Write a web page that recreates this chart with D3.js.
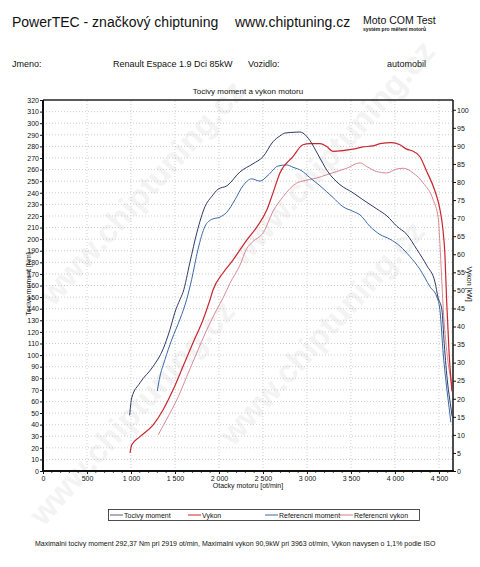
<!DOCTYPE html>
<html>
<head>
<meta charset="utf-8">
<script src="https://cdn.jsdelivr.net/npm/d3@7"></script>
<style>
  body { margin: 0; background: #fff; }
  svg text { font-family: "Liberation Sans", Arial, sans-serif; fill: #111; }
</style>
</head>
<body>
<svg width="480" height="567"></svg>
<script>
// tuned engine - torque [Nm]
var torqueRpm = [985, 1008, 1102, 1250, 1364, 1443, 1500, 1557, 1591, 1670, 1750, 1841, 1920, 1989, 2091, 2239, 2386, 2500, 2614, 2693, 2750, 2886, 2919, 2955, 3034, 3125, 3239, 3375, 3523, 3636, 3795, 3909, 4023, 4136, 4250, 4364, 4455, 4489, 4534, 4560, 4600, 4630, 4650];
var torqueNm = [48, 63, 76, 90, 105, 122, 137, 148, 154, 180, 206, 228, 237, 243, 246, 258, 265, 271, 284, 289, 291.5, 292.3, 292.4, 291.5, 285, 273, 258, 247, 240, 234, 226, 220, 211, 204, 191, 177, 163, 150, 139, 110, 75, 58, 47];

// tuned engine - power [kW]
var powerRpm = [989, 1008, 1102, 1250, 1364, 1477, 1591, 1705, 1818, 1898, 1932, 2045, 2159, 2318, 2432, 2545, 2614, 2693, 2841, 2955, 3034, 3148, 3224, 3295, 3409, 3523, 3636, 3750, 3830, 3963, 4057, 4133, 4189, 4284, 4360, 4455, 4511, 4545, 4568, 4588, 4615, 4648];
var powerKw = [5.0, 7.2, 9.5, 12.7, 16.9, 22.4, 28.9, 35.5, 41.8, 47.4, 50.1, 54.8, 58.4, 64, 67.6, 72.3, 77, 82.5, 87, 90.3, 90.6, 90.6, 89.8, 88.5, 88.7, 89.1, 89.7, 90.0, 90.6, 90.9, 90.3, 89.1, 88.7, 87, 83, 77.5, 72.5, 67, 60, 47, 33, 22];

// reference - torque [Nm]
var refTorqueRpm = [1299, 1322, 1386, 1462, 1557, 1633, 1689, 1761, 1841, 1917, 2011, 2087, 2182, 2273, 2371, 2466, 2557, 2670, 2769, 2841, 2939, 3034, 3148, 3295, 3409, 3523, 3602, 3716, 3830, 3943, 4057, 4170, 4284, 4398, 4477, 4511, 4550, 4591, 4615, 4636];
var refTorqueNm = [69, 79, 96, 113, 131, 148, 165, 191, 211, 217, 219, 223, 234, 246, 252, 250, 255, 263, 264, 262, 259, 253, 246, 236, 228, 224, 221, 211, 204, 200, 194, 185, 174, 159, 150, 139, 100, 70, 55, 42];

// reference - power [kW]
var refPowerRpm = [1310, 1349, 1443, 1538, 1633, 1746, 1860, 1973, 2049, 2125, 2239, 2314, 2386, 2504, 2617, 2731, 2883, 2977, 3110, 3224, 3337, 3451, 3602, 3678, 3792, 3905, 4019, 4095, 4208, 4322, 4436, 4492, 4511, 4530, 4549, 4590, 4645];
var refPowerKw = [10, 11.8, 16, 20.6, 26.1, 32.6, 39, 44.6, 48, 52, 57, 61.5, 63.5, 66, 72, 76, 79.7, 80.4, 81.1, 82, 82.9, 83.8, 85.3, 84.3, 82.9, 82.5, 83.6, 83.8, 82.5, 79.7, 75, 70, 63, 54, 45, 33, 24];

var xTicks = [0, 500, 1000, 1500, 2000, 2500, 3000, 3500, 4000, 4500];
var legendNames = ["Tocivy moment", "Vykon", "Referencni moment", "Referencni vykon"];

var svg = d3.select("svg");

var fmt = d3.formatLocale({decimal: ",", thousands: " ", grouping: [3], currency: ["", ""]}).format(",");

var x = d3.scaleLinear().domain([0, 4660]).range([43, 453]);
var yT = d3.scaleLinear().domain([0, 320]).range([471, 100]);
var yP = d3.scaleLinear().domain([0, 102.7]).range([471, 100]);

// watermark, kept inside the page
var wm = svg.append("g").attr("class", "watermark");
[[150, 200], [340, 160], [330, 340], [140, 420]].forEach(function (p) {
    wm.append("text")
        .attr("transform", "translate(" + p[0] + "," + p[1] + ") rotate(-48)")
        .attr("text-anchor", "middle")
        .style("font-size", "32px")
        .style("font-weight", "bold")
        .style("fill", "#f3f3f3")
        .text("www.chiptuning.cz");
});

// header
svg.append("text").attr("x", 12).attr("y", 27).style("font-size", "14px").text("PowerTEC - značkový chiptuning");
svg.append("text").attr("x", 235).attr("y", 27).style("font-size", "14px").text("www.chiptuning.cz");
svg.append("text").attr("x", 363).attr("y", 24).style("font-size", "10.5px").text("Moto COM Test");
svg.append("text").attr("x", 363).attr("y", 31).style("font-size", "5px").style("font-weight", "bold").text("systém pro měření motorů");

svg.append("text").attr("x", 12).attr("y", 67).style("font-size", "9px").text("Jmeno:");
svg.append("text").attr("x", 113).attr("y", 67).style("font-size", "9px").text("Renault Espace 1.9 Dci 85kW");
svg.append("text").attr("x", 248).attr("y", 67).style("font-size", "9px").text("Vozidlo:");
svg.append("text").attr("x", 387).attr("y", 67).style("font-size", "9px").text("automobil");

svg.append("text").attr("x", 248).attr("y", 94).attr("text-anchor", "middle")
    .style("font-size", "8px").text("Tocivy moment a vykon motoru");

// grid
var grid = svg.append("g").attr("class", "grid")
    .style("stroke", "#b8b8b8").style("stroke-width", 0.7).style("stroke-dasharray", "1,2");
grid.selectAll("line.h")
    .data(d3.range(10, 320, 10))
    .enter().append("line")
    .attr("x1", x(0)).attr("x2", x(4660))
    .attr("y1", d => yT(d)).attr("y2", d => yT(d));
grid.selectAll("line.v")
    .data(xTicks.slice(1))
    .enter().append("line")
    .attr("x1", d => x(d)).attr("x2", d => x(d))
    .attr("y1", yT(0)).attr("y2", yT(320));

// axes
var axisLeft = d3.axisLeft(yT).tickValues(d3.range(0, 321, 10)).tickSize(3).tickPadding(1).tickFormat(d3.format("d"));
var axisRight = d3.axisRight(yP).tickValues(d3.range(0, 101, 5)).tickSize(3).tickPadding(1).tickFormat(d3.format("d"));
var axisBottom = d3.axisBottom(x).tickValues(xTicks).tickSize(3).tickPadding(2).tickFormat(fmt);

var gl = svg.append("g").attr("transform", "translate(" + x(0) + ",0)").call(axisLeft);
var gr = svg.append("g").attr("transform", "translate(" + x(4660) + ",0)").call(axisRight);
var gb = svg.append("g").attr("transform", "translate(0," + yT(0) + ")").call(axisBottom);

[gl, gr, gb].forEach(function (g) {
    g.selectAll("text").style("font-size", "7px").style("font-family", "Liberation Sans, Arial, sans-serif");
    g.selectAll(".tick line").style("stroke", "#111");
    g.select(".domain").remove();
});

// minor x ticks
svg.append("g").selectAll("line")
    .data(d3.range(100, 4660, 100).filter(d => d % 500 !== 0))
    .enter().append("line")
    .attr("x1", d => x(d)).attr("x2", d => x(d))
    .attr("y1", yT(0)).attr("y2", yT(0) + 2)
    .style("stroke", "#111").style("stroke-width", 0.7);

// frame
svg.append("line").attr("x1", x(0)).attr("x2", x(4660)).attr("y1", yT(320)).attr("y2", yT(320))
    .style("stroke", "#222").style("stroke-width", 1.5);
svg.append("line").attr("x1", x(4660)).attr("x2", x(4660)).attr("y1", yT(320)).attr("y2", yT(0))
    .style("stroke", "#111").style("stroke-width", 1.5);
svg.append("line").attr("x1", x(0)).attr("x2", x(0)).attr("y1", yT(320)).attr("y2", yT(0))
    .style("stroke", "#111").style("stroke-width", 2);
svg.append("line").attr("x1", x(0) - 1).attr("x2", x(4660) + 1).attr("y1", yT(0)).attr("y2", yT(0))
    .style("stroke", "#111").style("stroke-width", 2);

// axis titles
svg.append("text").attr("x", 248).attr("y", 488).attr("text-anchor", "middle")
    .style("font-size", "7px").text("Otacky motoru [ot/min]");
svg.append("text").attr("transform", "translate(31,284) rotate(-90)").attr("text-anchor", "middle")
    .style("font-size", "7px").text("Tocivy moment [Nm]");
svg.append("text").attr("transform", "translate(467,284) rotate(90)").attr("text-anchor", "middle")
    .style("font-size", "7px").text("Vykon [kW]");

// curves
var colors = ["#2d3a66", "#c8262e", "#3a68a8", "#d47c88"];
var series = [
    {rpm: torqueRpm, v: torqueNm, y: yT, c: colors[0], w: 1},
    {rpm: powerRpm, v: powerKw, y: yP, c: colors[1], w: 1.2},
    {rpm: refTorqueRpm, v: refTorqueNm, y: yT, c: colors[2], w: 1},
    {rpm: refPowerRpm, v: refPowerKw, y: yP, c: colors[3], w: 0.9}
];

var plot = svg.append("g").attr("class", "curves");
series.slice().reverse().forEach(function (s) {
    var line = d3.line()
        .x(function (d, i) { return x(s.rpm[i]); })
        .y(function (d) { return s.y(d); })
        .curve(d3.curveMonotoneX);
    plot.append("path")
        .datum(s.v)
        .attr("d", line)
        .style("fill", "none")
        .style("stroke", s.c)
        .style("stroke-width", s.w);
});

// legend
var lg = svg.append("g");
lg.append("rect").attr("x", 108.5).attr("y", 509.5).attr("width", 311).attr("height", 11)
    .style("fill", "#fff").style("stroke", "#222").style("stroke-width", 0.8);
var legendX = [110, 188, 265, 340];
var legendColors = ["#5a5f78", colors[1], colors[2], colors[3]];
legendNames.forEach(function (name, i) {
    lg.append("line").attr("x1", legendX[i]).attr("x2", legendX[i] + 13).attr("y1", 515).attr("y2", 515)
        .style("stroke", legendColors[i]).style("stroke-width", 1);
    lg.append("text").attr("x", legendX[i] + 14).attr("y", 517.5).style("font-size", "7px").text(name);
});

// footer
svg.append("text").attr("x", 35).attr("y", 546).style("font-size", "7px")
    .text("Maximalni tocivy moment 292,37 Nm pri 2919 ot/min,  Maximalni vykon 90,9kW pri 3963 ot/min,  Vykon navysen o 1,1% podle ISO");
</script>
</body>
</html>
